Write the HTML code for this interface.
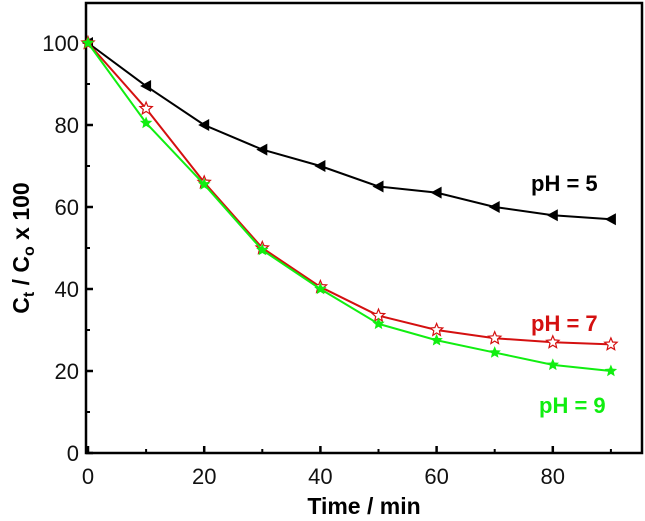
<!DOCTYPE html>
<html><head><meta charset="utf-8"><style>
body{margin:0;background:#fff;}
svg{display:block;font-family:"Liberation Sans",Arial,sans-serif;}
</style></head><body>
<svg id="chart" width="645" height="521" viewBox="0 0 645 521" xmlns="http://www.w3.org/2000/svg">
<g id="plot"></g>
</svg>
<script>
const times=[0,10,20,30,40,50,60,70,80,90];
const ph5=[100,89.5,80,74,70,65,63.5,60,58,57];
const ph7=[100,84,66,50,40.5,33.5,30,28,27,26.5];
const ph9=[100,80.5,65.5,49.5,40,31.5,27.5,24.5,21.5,20];
const xTicks=[0,20,40,60,80];
const yTicks=[0,20,40,60,80,100];
const xMinor=[10,30,50,70,90];
const yMinor=[10,30,50,70,90];

const NS="http://www.w3.org/2000/svg";
const g=document.getElementById('plot');
const X=t=>88+5.81*t;
const Y=v=>453-4.1*v;
function el(tag,attrs,parent){const e=document.createElementNS(NS,tag);for(const k in attrs)e.setAttribute(k,attrs[k]);(parent||g).appendChild(e);return e;}

const fr=el('rect',{x:86,y:3,width:556,height:450,fill:'none',stroke:'#000','stroke-width':2.5});



xTicks.forEach(t=>{
  const l=el('line',{x1:X(t),x2:X(t),y1:453,y2:446,stroke:'#000','stroke-width':2.5});
  
  
  const tx=el('text',{x:X(t),y:484,'text-anchor':'middle','font-size':22,fill:'#111'});
  tx.textContent=t;
  
  
});
xMinor.forEach(t=>{
  const l=el('line',{x1:X(t),x2:X(t),y1:453,y2:449,stroke:'#000','stroke-width':2});
  
  
});
yTicks.forEach(v=>{
  const l=el('line',{x1:86,x2:93,y1:Y(v),y2:Y(v),stroke:'#000','stroke-width':2.5});
  
  
  const tx=el('text',{x:79,y:Y(v)+8,'text-anchor':'end','font-size':22,fill:'#111'});
  tx.textContent=v;
  
  
});
yMinor.forEach(v=>{
  const l=el('line',{x1:86,x2:90,y1:Y(v),y2:Y(v),stroke:'#000','stroke-width':2});
  
  
});

function star(cx,cy,r){let p=[];for(let i=0;i<10;i++){const a=-Math.PI/2+i*Math.PI/5;const rr=i%2?r*0.45:r;p.push((cx+rr*Math.cos(a)).toFixed(1)+','+(cy+rr*Math.sin(a)).toFixed(1));}return p.join(' ');}

function series(vals,color,name,marker){
  const pts=times.map((t,i)=>X(t)+','+Y(vals[i])).join(' ');
  const pl=el('polyline',{points:pts,fill:'none',stroke:color,'stroke-width':2});
  
  
  times.forEach((t,i)=>{
    const cx=X(t),cy=Y(vals[i]);let m;
    if(marker==='tri') m=el('polygon',{points:`${cx-6},${cy} ${cx+5},${cy-6} ${cx+5},${cy+6}`,fill:color});
    else if(marker==='ostar') m=el('polygon',{points:star(cx,cy,6.5),fill:'#fff',stroke:color,'stroke-width':1.2});
    else m=el('polygon',{points:star(cx,cy,6.5),fill:color});
    
    
  });
}
series(ph5,'#000',"ph5",'tri');
series(ph7,'#d41010',"ph7",'ostar');
series(ph9,'#11ee11',"ph9",'star');

function label(txt,x,y,c,n){const t=el('text',{x:x,y:y,'font-size':22,'font-weight':'bold',fill:c});t.textContent=txt;}
label('pH = 5',531,191,'#000','ph5-label');
label('pH = 7',531,331,'#d41010','ph7-label');
label('pH = 9',539,413,'#11ee11','ph9-label');

const xt=el('text',{x:364,y:514,'text-anchor':'middle','font-size':23,'font-weight':'bold',fill:'#000'});
xt.textContent='Time / min';


const yt=el('text',{x:0,y:0,'text-anchor':'middle','font-size':23,'font-weight':'bold',fill:'#000',transform:'translate(29,248) rotate(-90)'});
yt.innerHTML='C<tspan font-size="16" dy="5">t</tspan><tspan dy="-5"> / C</tspan><tspan font-size="16" dy="5">o</tspan><tspan dy="-5"> x 100</tspan>';


</script>
</body></html>
